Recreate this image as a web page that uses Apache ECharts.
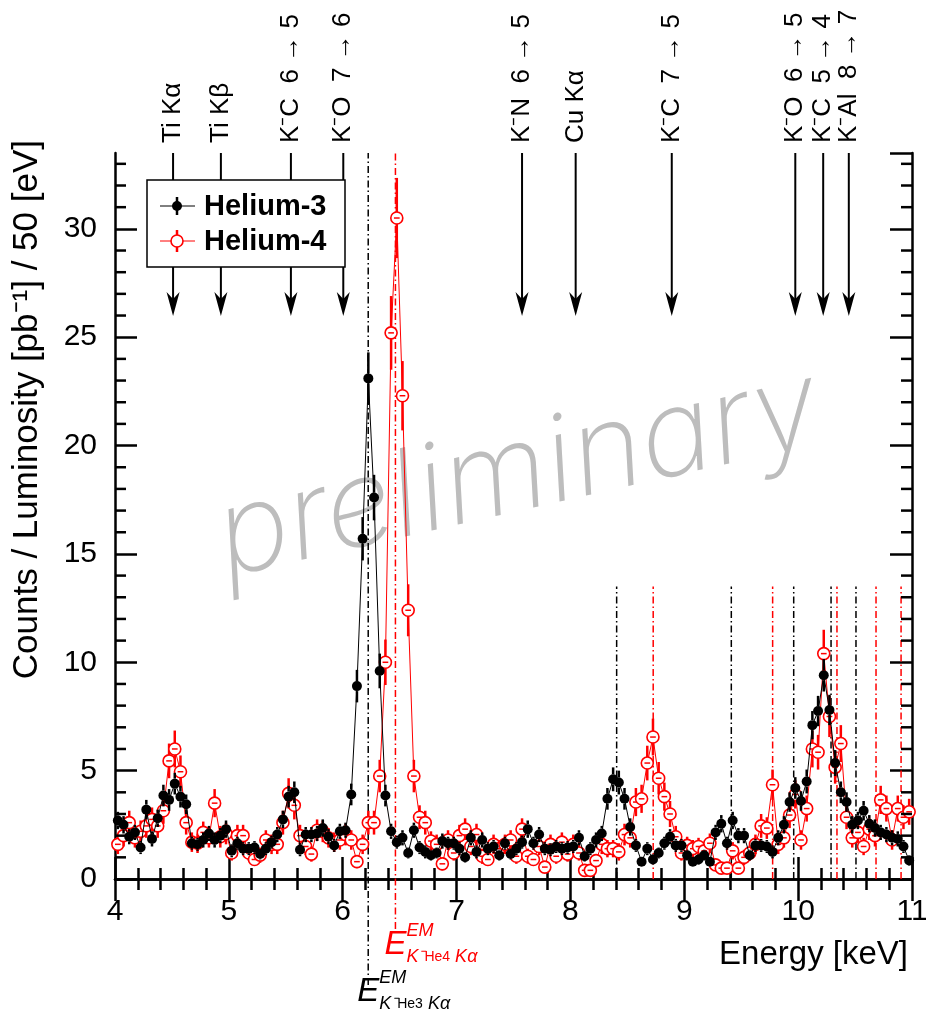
<!DOCTYPE html>
<html>
<head>
<meta charset="utf-8">
<script src="https://cdn.jsdelivr.net/npm/echarts@6/dist/echarts.min.js"></script>
<style>
html, body { margin: 0; padding: 0; background: #fff; }
#chart { width: 926px; height: 1017px; }
</style>
</head>
<body>
<div id="chart"></div>
<script>
// 50 eV bins from 4.0 to 11.0 keV
const BIN_START = 4.0;
const BIN_WIDTH = 0.05;

const he3Counts = [
    2.7, 2.5, 1.95, 2.15, 1.45, 3.2, 1.85, 2.8, 3.85, 3.65,
    4.4, 3.8, 3.45, 1.65, 1.6, 1.8, 2.1, 1.8, 2.0, 2.3,
    1.3, 1.65, 1.4, 1.4, 1.45, 1.15, 1.4, 1.7, 2.05, 2.75,
    3.8, 4.0, 1.35, 2.05, 2.05, 2.1, 2.35, 1.95, 1.55, 2.2,
    2.25, 3.9, 8.9, 15.7, 23.1, 17.6, 9.6, 3.85, 2.2, 1.7,
    1.9, 1.2, 2.25, 1.45, 1.25, 1.1, 1.2, 1.75, 1.65, 1.65,
    1.4, 1.0, 1.9, 1.25, 1.8, 1.4, 1.5, 1.1, 1.65, 1.15,
    1.4, 1.7, 2.3, 1.65, 2.05, 1.4, 1.35, 1.5, 1.4, 1.45,
    1.5, 1.9, 1.05, 1.4, 1.8, 2.1, 3.7, 4.6, 4.45, 3.7,
    2.4, 1.55, 0.8, 1.4, 0.9, 1.2, 1.65, 1.95, 1.55, 1.55,
    1.1, 0.8, 0.9, 1.1, 0.8, 2.15, 2.55, 1.65, 2.7, 2.0,
    2.0, 1.1, 1.55, 1.55, 1.5, 1.25, 1.9, 2.5, 3.55, 4.2,
    3.6, 4.5, 7.1, 7.75, 9.4, 7.8, 5.35, 4.0, 3.55, 2.5,
    2.7, 3.15, 2.55, 2.35, 2.15, 2.05, 1.9, 1.85, 1.5, 0.85
];
const he3Errors = [
    0.4, 0.4, 0.35, 0.35, 0.3, 0.45, 0.35, 0.4, 0.5, 0.5,
    0.5, 0.5, 0.45, 0.3, 0.3, 0.35, 0.35, 0.35, 0.35, 0.4,
    0.3, 0.3, 0.3, 0.3, 0.3, 0.25, 0.3, 0.3, 0.35, 0.4,
    0.5, 0.5, 0.3, 0.35, 0.35, 0.35, 0.4, 0.35, 0.3, 0.35,
    0.35, 0.5, 0.75, 1.0, 1.2, 1.05, 0.8, 0.5, 0.35, 0.3,
    0.35, 0.25, 0.35, 0.3, 0.3, 0.25, 0.25, 0.35, 0.3, 0.3,
    0.3, 0.25, 0.35, 0.3, 0.35, 0.3, 0.3, 0.25, 0.3, 0.25,
    0.3, 0.3, 0.4, 0.3, 0.35, 0.3, 0.3, 0.3, 0.3, 0.3,
    0.3, 0.35, 0.25, 0.3, 0.35, 0.35, 0.5, 0.55, 0.55, 0.5,
    0.4, 0.3, 0.2, 0.3, 0.25, 0.25, 0.3, 0.35, 0.3, 0.3,
    0.25, 0.2, 0.25, 0.25, 0.2, 0.35, 0.4, 0.3, 0.4, 0.35,
    0.35, 0.25, 0.3, 0.3, 0.3, 0.3, 0.35, 0.4, 0.45, 0.5,
    0.45, 0.55, 0.65, 0.7, 0.75, 0.7, 0.6, 0.5, 0.45, 0.4,
    0.4, 0.45, 0.4, 0.4, 0.35, 0.35, 0.35, 0.35, 0.3, 0.25
];
const he4Counts = [
    1.6, 2.0, 2.6, 1.9, 2.2, 2.45, 2.75, 2.45, 3.15, 5.45,
    6.0, 4.95, 2.6, 1.7, 1.65, 2.15, 1.9, 3.5, 1.95, 2.1,
    1.2, 2.0, 2.0, 1.2, 0.9, 1.1, 1.8, 1.6, 1.6, 2.6,
    3.95, 3.4, 2.0, 1.5, 1.15, 2.25, 2.2, 1.9, 1.7, 1.8,
    2.05, 1.8, 0.8, 1.6, 2.6, 2.6, 4.75, 10.0, 25.2, 30.5,
    22.3, 12.4, 4.75, 2.85, 2.6, 1.75, 1.6, 0.7, 1.8, 1.2,
    2.0, 2.3, 1.5, 2.05, 1.05, 0.9, 1.6, 1.4, 1.6, 1.8,
    1.05, 2.3, 1.05, 0.9, 1.5, 0.55, 1.6, 1.05, 1.7, 1.15,
    1.6, 1.2, 0.4, 0.4, 0.85, 1.6, 1.4, 1.4, 1.25, 2.05,
    1.9, 3.55, 3.7, 5.35, 6.55, 4.65, 3.8, 3.0, 1.95, 1.2,
    1.55, 1.4, 1.5, 1.3, 1.65, 0.65, 0.5, 0.5, 1.3, 0.5,
    1.0, 1.2, 1.6, 2.45, 2.35, 4.35, 1.6, 1.9, 2.95, 3.9,
    1.8, 3.25, 6.0, 5.85, 10.4, 7.5, 5.15, 6.25, 2.85, 1.9,
    2.15, 1.5, 2.3, 2.0, 3.65, 3.25, 1.8, 3.25, 2.85, 3.1
];
const he4Errors = [
    0.45, 0.5, 0.55, 0.45, 0.5, 0.55, 0.55, 0.55, 0.6, 0.8,
    0.85, 0.75, 0.55, 0.45, 0.45, 0.5, 0.45, 0.65, 0.5, 0.5,
    0.35, 0.5, 0.5, 0.35, 0.3, 0.35, 0.45, 0.45, 0.45, 0.55,
    0.7, 0.65, 0.5, 0.4, 0.35, 0.5, 0.5, 0.45, 0.45, 0.45,
    0.5, 0.45, 0.3, 0.45, 0.55, 0.55, 0.75, 1.05, 1.7, 1.85,
    1.6, 1.2, 0.75, 0.55, 0.55, 0.45, 0.45, 0.3, 0.45, 0.35,
    0.5, 0.5, 0.4, 0.5, 0.35, 0.3, 0.45, 0.4, 0.45, 0.45,
    0.35, 0.5, 0.35, 0.3, 0.4, 0.25, 0.45, 0.35, 0.45, 0.35,
    0.45, 0.35, 0.2, 0.2, 0.3, 0.45, 0.4, 0.4, 0.4, 0.5,
    0.45, 0.65, 0.65, 0.8, 0.85, 0.75, 0.65, 0.6, 0.5, 0.35,
    0.4, 0.4, 0.4, 0.4, 0.45, 0.25, 0.25, 0.25, 0.4, 0.25,
    0.35, 0.35, 0.45, 0.55, 0.5, 0.7, 0.45, 0.45, 0.6, 0.65,
    0.45, 0.6, 0.85, 0.8, 1.1, 0.95, 0.75, 0.85, 0.55, 0.45,
    0.5, 0.4, 0.5, 0.5, 0.65, 0.6, 0.45, 0.6, 0.55, 0.6
];

// transition lines marked with arrows at the top
const lineLabels = ['Ti K\u03b1', 'Ti K\u03b2', 'K\u207bC  6 \u2192 5', 'K\u207bO  7 \u2192 6', 'K\u207bN  6 \u2192 5',
    'Cu K\u03b1', 'K\u207bC  7 \u2192 5', 'K\u207bO  6 \u2192 5', 'K\u207bC  5 \u2192 4', 'K\u207bAl  8 \u2192 7'];
const lineEnergies = [4.51, 4.93, 5.545, 6.005, 7.575, 8.046, 8.89, 9.975, 10.22, 10.445];

// EM values of the kaonic helium K-alpha lines (dash-dot)
const he3Kalpha = 6.224;
const he4Kalpha = 6.463;
const he3RefLines = [8.406, 9.413, 9.961, 10.289, 10.508];
const he4RefLines = [8.727, 9.776, 10.341, 10.684, 10.904];
const REF_TOP = 13.5;

const X_MIN = 4, X_MAX = 11;
const Y_MIN = 0, Y_MAX = 33.5;

const FONT = '"Liberation Sans", Arial, Helvetica, sans-serif';
const RED = '#ff0000';
const DASH_DOT = [7, 3, 1.5, 3];

const energies = he3Counts.map((_, i) => +(BIN_START + BIN_WIDTH * (i + 0.5)).toFixed(3));
const yMinorTicks = [];
for (let v = 1; v < Y_MAX; v++) {
    if (v % 5 !== 0) yMinorTicks.push(v);
}

const chart = echarts.init(document.getElementById('chart'));

function markerSeries(name, counts, errors, color, hollow, z) {
    return {
        name: name,
        type: 'custom',
        z: z,
        silent: true,
        xAxisIndex: 0,
        yAxisIndex: 0,
        data: energies.map((e, i) => [e, counts[i], errors[i]]),
        encode: { x: 0, y: 1 },
        renderItem: function (params, api) {
            const e = api.value(0), v = api.value(1), err = api.value(2);
            const c = api.coord([e, v]);
            const hi = api.coord([e, v + err]);
            const lo = api.coord([e, Math.max(v - err, 0)]);
            const r = hollow ? 6 : 5;
            const children = [];
            if (hi[1] < c[1] - r) {
                children.push({ type: 'line', shape: { x1: c[0], y1: hi[1], x2: c[0], y2: c[1] - r },
                    style: { stroke: color, lineWidth: 2.5 } });
            }
            if (lo[1] > c[1] + r) {
                children.push({ type: 'line', shape: { x1: c[0], y1: c[1] + r, x2: c[0], y2: lo[1] },
                    style: { stroke: color, lineWidth: 2.5 } });
            }
            children.push({ type: 'circle', shape: { cx: c[0], cy: c[1], r: r },
                style: { fill: hollow ? '#fff' : color, stroke: color, lineWidth: hollow ? 1.6 : 0 } });
            if (hollow) {
                const xl = api.coord([e - BIN_WIDTH / 2, v])[0];
                const xr = api.coord([e + BIN_WIDTH / 2, v])[0];
                children.push({ type: 'line', shape: { x1: xl, y1: c[1], x2: xr, y2: c[1] },
                    style: { stroke: color, lineWidth: 1.5 } });
            }
            return { type: 'group', children: children };
        }
    };
}

function connectSeries(counts, color, z) {
    return {
        type: 'line',
        z: z,
        silent: true,
        xAxisIndex: 0,
        yAxisIndex: 0,
        data: energies.map((e, i) => [e, counts[i]]),
        symbol: 'none',
        lineStyle: { color: color, width: 1 },
        animation: false
    };
}

function refLineSeries(list, color) {
    return {
        type: 'custom',
        z: 1,
        silent: true,
        data: list.map(e => [e, REF_TOP]),
        renderItem: function (params, api) {
            const p0 = api.coord([api.value(0), 0]);
            const p1 = api.coord([api.value(0), api.value(1)]);
            return { type: 'line', shape: { x1: p0[0], y1: p0[1], x2: p1[0], y2: p1[1] },
                style: { stroke: color, lineWidth: 1.5, lineDash: DASH_DOT } };
        }
    };
}

function kalphaSeries(energy, color, extend) {
    return {
        type: 'custom',
        z: 1,
        silent: true,
        clip: false,
        data: [[energy, Y_MAX]],
        renderItem: function (params, api) {
            const p0 = api.coord([api.value(0), 0]);
            const p1 = api.coord([api.value(0), api.value(1)]);
            return { type: 'line', shape: { x1: p0[0], y1: p0[1] + extend, x2: p1[0], y2: p1[1] },
                style: { stroke: color, lineWidth: 1.5, lineDash: DASH_DOT } };
        }
    };
}

const axisStyle = { color: '#000', width: 2.5 };

const option = {
    animation: false,
    backgroundColor: '#fff',
    grid: { left: 115, right: 14, top: 153, bottom: 138, outerBoundsMode: 'none' },
    xAxis: [{
        type: 'value', position: 'bottom', min: X_MIN, max: X_MAX, interval: 1,
        axisLine: { lineStyle: axisStyle },
        axisTick: { inside: true, length: 22, lineStyle: axisStyle },
        minorTick: { show: true, splitNumber: 5, length: 11, lineStyle: axisStyle },
        axisLabel: { fontSize: 30, color: '#000', fontFamily: FONT, margin: 18 },
        splitLine: { show: false }
    }, {
        type: 'value', position: 'top', min: X_MIN, max: X_MAX, interval: 1,
        axisLine: { lineStyle: axisStyle },
        axisTick: { inside: true, length: 22, lineStyle: axisStyle },
        minorTick: { show: true, splitNumber: 5, length: 11, lineStyle: axisStyle },
        axisLabel: { show: false },
        splitLine: { show: false }
    }],
    yAxis: [{
        type: 'value', position: 'left', min: Y_MIN, max: Y_MAX, interval: 5,
        axisLine: { lineStyle: axisStyle },
        axisTick: { inside: true, length: 22, lineStyle: axisStyle },
        axisLabel: { fontSize: 30, color: '#000', fontFamily: FONT, margin: 18, showMaxLabel: false },
        splitLine: { show: false }
    }, {
        type: 'value', position: 'right', min: Y_MIN, max: Y_MAX, interval: 5,
        axisLine: { lineStyle: axisStyle },
        axisTick: { inside: true, length: 22, lineStyle: axisStyle },
        axisLabel: { show: false },
        splitLine: { show: false }
    }],
    series: [
        // y minor ticks on both sides (every 1 unit)
        {
            type: 'custom', z: 10, silent: true, clip: false,
            data: yMinorTicks.map(v => [X_MIN, v]),
            renderItem: function (params, api) {
                const l = api.coord([X_MIN, api.value(1)]);
                const r = api.coord([X_MAX, api.value(1)]);
                return { type: 'group', children: [
                    { type: 'line', shape: { x1: l[0], y1: l[1], x2: l[0] + 11, y2: l[1] }, style: { stroke: '#000', lineWidth: 2.5 } },
                    { type: 'line', shape: { x1: r[0], y1: r[1], x2: r[0] - 11, y2: r[1] }, style: { stroke: '#000', lineWidth: 2.5 } }
                ] };
            }
        },
        refLineSeries(he3RefLines, '#000'),
        refLineSeries(he4RefLines, RED),
        kalphaSeries(he3Kalpha, '#000', 106),
        kalphaSeries(he4Kalpha, RED, 50),
        connectSeries(he4Counts, RED, 2),
        markerSeries('Helium-4', he4Counts, he4Errors, RED, true, 3),
        connectSeries(he3Counts, '#000', 4),
        markerSeries('Helium-3', he3Counts, he3Errors, '#000', false, 5),
        // arrows + transition labels
        {
            type: 'custom', z: 6, silent: true, clip: false,
            data: lineEnergies.map((e, i) => [e, i]),
            renderItem: function (params, api) {
                const x = api.coord([api.value(0), 0])[0];
                const top = api.coord([X_MIN, Y_MAX])[1];
                const tip = top + 163;
                return { type: 'group', children: [
                    { type: 'line', shape: { x1: x, y1: top, x2: x, y2: tip - 12 }, style: { stroke: '#000', lineWidth: 2 } },
                    { type: 'polygon', shape: { points: [[x, tip], [x - 6.5, tip - 24], [x, tip - 17], [x + 6.5, tip - 24]] },
                        style: { fill: '#000' } },
                    { type: 'text', x: x, y: top - 10, rotation: Math.PI / 2,
                        style: { text: lineLabels[params.dataIndex], fontSize: 26, fontFamily: FONT, fill: '#000',
                            align: 'left', verticalAlign: 'middle' } }
                ] };
            }
        }
    ]
};

chart.setOption(option);

// labels placed relative to the plot
const px3 = chart.convertToPixel({ xAxisIndex: 0 }, he3Kalpha);
const px4 = chart.convertToPixel({ xAxisIndex: 0 }, he4Kalpha);

function emLabel(px, yMid, color, sub) {
    return [
        { type: 'text', x: px - 11, y: yMid, z: 20,
            style: { text: 'E', fontSize: 33, fontStyle: 'italic', fontFamily: FONT, fill: color, align: 'left', verticalAlign: 'middle' } },
        { type: 'text', x: px + 11, y: yMid - 14, z: 20,
            style: { text: 'EM', fontSize: 18, fontStyle: 'italic', fontFamily: FONT, fill: color, align: 'left', verticalAlign: 'middle' } },
        { type: 'text', x: px + 11, y: yMid + 12, z: 20,
            style: { text: '{k|K\u207b}{h|' + sub + '}{k| K\u03b1}',
                rich: {
                    k: { fontSize: 18, fontStyle: 'italic', fontFamily: FONT, fill: color },
                    h: { fontSize: 14, fontFamily: FONT, fill: color }
                },
                fill: color, align: 'left', verticalAlign: 'middle' } }
    ];
}

chart.setOption({
    graphic: [
        // watermark
        { type: 'text', x: 518, y: 474, rotation: 0.222, z: 0, silent: true,
            style: { text: 'preliminary', fontSize: 120, fontStyle: 'italic', fontWeight: 200,
                fontFamily: 'Inter, Roboto, "Liberation Sans", sans-serif',
                fill: '#bdbdbd', align: 'center', verticalAlign: 'middle' } },
        // legend
        { type: 'rect', shape: { x: 147, y: 180, width: 198, height: 87 }, z: 20,
            style: { fill: '#fff', stroke: '#000', lineWidth: 1.5 } },
        { type: 'line', shape: { x1: 160, y1: 206, x2: 195, y2: 206 }, z: 21, style: { stroke: '#000', lineWidth: 1 } },
        { type: 'line', shape: { x1: 177, y1: 197, x2: 177, y2: 215 }, z: 21, style: { stroke: '#000', lineWidth: 2.5 } },
        { type: 'circle', shape: { cx: 177, cy: 206, r: 5 }, z: 22, style: { fill: '#000' } },
        { type: 'text', x: 204, y: 207, z: 22,
            style: { text: 'Helium-3', fontSize: 29, fontWeight: 'bold', fontFamily: FONT, fill: '#000', align: 'left', verticalAlign: 'middle' } },
        { type: 'line', shape: { x1: 160, y1: 241, x2: 195, y2: 241 }, z: 21, style: { stroke: RED, lineWidth: 1 } },
        { type: 'line', shape: { x1: 177, y1: 230, x2: 177, y2: 252 }, z: 21, style: { stroke: RED, lineWidth: 2.5 } },
        { type: 'circle', shape: { cx: 177, cy: 241, r: 6 }, z: 22, style: { fill: '#fff', stroke: RED, lineWidth: 1.6 } },
        { type: 'text', x: 204, y: 242, z: 22,
            style: { text: 'Helium-4', fontSize: 29, fontWeight: 'bold', fontFamily: FONT, fill: '#000', align: 'left', verticalAlign: 'middle' } },
        // axis titles
        { type: 'text', x: 908, y: 955, z: 20,
            style: { text: 'Energy [keV]', fontSize: 33, fontFamily: FONT, fill: '#000', align: 'right', verticalAlign: 'middle' } },
        { type: 'text', x: 27, y: 140, rotation: Math.PI / 2, z: 20,
            style: { text: 'Counts / Luminosity [pb\u207b\u00b9] / 50 [eV]', fontSize: 35, fontFamily: FONT, fill: '#000',
                align: 'right', verticalAlign: 'middle' } }
    ].concat(emLabel(px4, 945, RED, 'He4')).concat(emLabel(px3, 992, '#000', 'He3'))
});

window.addEventListener('resize', () => chart.resize());
</script>
</body>
</html>
